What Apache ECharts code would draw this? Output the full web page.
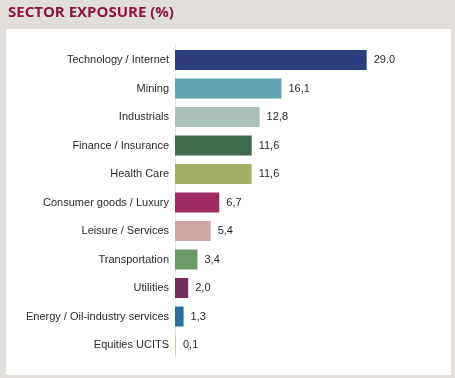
<!DOCTYPE html>
<html>
<head>
<meta charset="utf-8">
<script src="https://cdn.jsdelivr.net/npm/echarts@6/dist/echarts.min.js"></script>
<style>
html,body{margin:0;padding:0;background:#e2deda;}
#c{width:455px;height:378px;}
</style>
</head>
<body>
<div id="c"></div>
<script>
var categories = ["Technology / Internet","Mining","Industrials","Finance / Insurance","Health Care","Consumer goods / Luxury","Leisure / Services","Transportation","Utilities","Energy / Oil-industry services","Equities UCITS"];
var values = [29.0,16.1,12.8,11.6,11.6,6.7,5.4,3.4,2.0,1.3,0.1];
var valueLabels = ["29.0","16,1","12,8","11,6","11,6","6,7","5,4","3,4","2,0","1,3","0,1"];
var colors = ["#2e3c80","#5fa3ae","#abc0b8","#3e694b","#a3ae66","#9c2c5f","#d0a5a5","#6a9a65","#722e58","#2a6ea2","#c9cba0"];

var chart = echarts.init(document.getElementById('c'), null, {renderer:'canvas'});
chart.setOption({
  backgroundColor: '#e2deda',
  animation: false,
  graphic: [
    {type:'rect', shape:{x:6,y:29,width:445,height:346}, style:{fill:'#ffffff'}, z:-10},
    {type:'text', left:8, top:5, style:{text:'SECTOR EXPOSURE (%)', fill:'#8f1446', font:'bold 15px "Open Sans"'}}
  ],
  grid: {left:175, top:45.75, width:264.4, height:313.5, containLabel:false},
  xAxis: {type:'value', min:0, max:40, show:false},
  yAxis: {
    type:'category', data:categories, inverse:true,
    axisLine:{show:true, lineStyle:{color:'#e6e6e6', width:1}},
    axisTick:{show:false},
    axisLabel:{color:'#2a2a2a', fontSize:11, fontFamily:'Liberation Sans', margin:6}
  },
  series: [{
    type:'bar', barWidth:20, barMinHeight:1,
    data: values.map(function(v,i){return {value:v, itemStyle:{color:colors[i]}};}),
    label:{show:true, position:'right', distance:7, color:'#2a2a2a', fontSize:11, fontFamily:'Liberation Sans',
      formatter:function(p){return valueLabels[p.dataIndex];}}
  }]
});
</script>
</body>
</html>
